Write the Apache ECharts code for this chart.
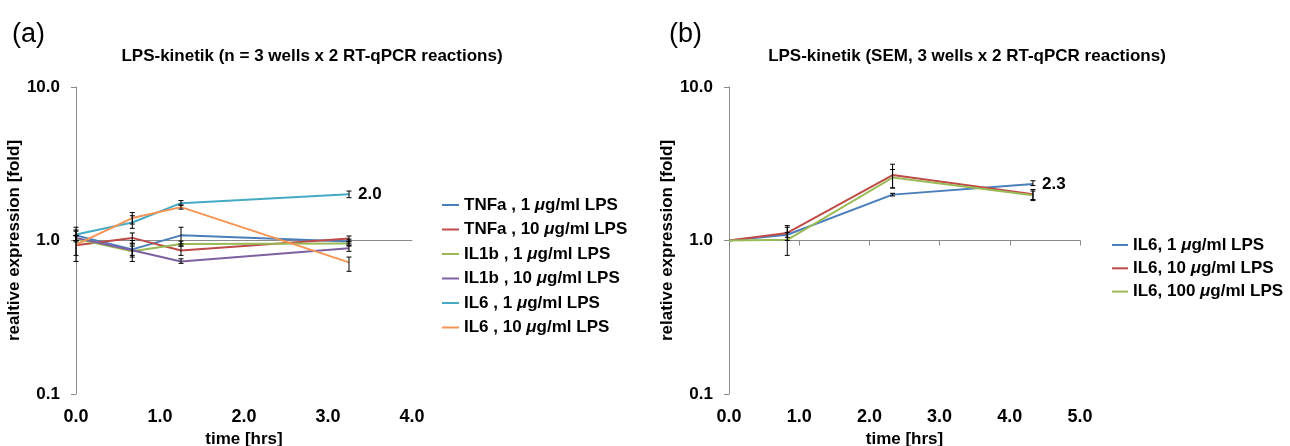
<!DOCTYPE html>
<html><head><meta charset="utf-8">
<script src="https://cdn.jsdelivr.net/npm/echarts@6/dist/echarts.min.js"></script>
<style>html,body{margin:0;padding:0;background:#fff}#c{width:1290px;height:446px}</style>
</head><body><div id="c"></div>
<script>
// ---- panel (a) ----
const timesA = [0, 0.67, 1.25, 3.25];
const xTicksA = [0, 4];
const namesA = ['TNFa , 1 μg/ml LPS', 'TNFa , 10 μg/ml LPS', 'IL1b , 1 μg/ml LPS', 'IL1b , 10 μg/ml LPS', 'IL6 , 1 μg/ml LPS', 'IL6 , 10 μg/ml LPS'];
const tnfa1  = [1.08, 0.875, 1.08, 0.985];
const tnfa10 = [0.93, 1.04, 0.86, 1.03];
const il1b1  = [1.025, 0.85, 0.95, 0.955];
const il1b10 = [1.04, 0.865, 0.73, 0.89];
const il6a1  = [1.095, 1.31, 1.75, 2.0];
const il6a10 = [0.94, 1.40, 1.65, 0.72];
const tnfa1Err  = [[1.0, 1.17], [0.80, 0.96], [0.95, 1.22], [0.95, 1.02]];
const tnfa10Err = [[0.80, 1.08], [0.95, 1.12], [0.80, 0.92], [0.98, 1.07]];
const il1b1Err  = [[0.98, 1.07], [0.78, 0.92], [0.92, 0.99], [0.92, 0.99]];
const il1b10Err = [[1.00, 1.08], [0.73, 1.00], [0.71, 0.76], [0.85, 0.93]];
const il6a1Err  = [[1.00, 1.22], [1.20, 1.45], [1.70, 1.82], [1.90, 2.10]];
const il6a10Err = [[0.73, 1.15], [1.28, 1.52], [1.60, 1.70], [0.63, 0.78]];
// ---- panel (b) ----
const timesB = [0, 0.83, 2.33, 4.33];
const xTicksB = [0, 5];
const namesB = ['IL6, 1 μg/ml LPS', 'IL6, 10 μg/ml LPS', 'IL6, 100 μg/ml LPS'];
const il6b1   = [1.0, 1.09, 1.99, 2.33];
const il6b10  = [1.0, 1.12, 2.67, 2.0];
const il6b100 = [1.0, 1.01, 2.57, 1.97];
const il6b1Err   = [null, [1.05, 1.13], [1.95, 2.03], [2.28, 2.45]];
const il6b10Err  = [null, [1.00, 1.25], [2.20, 3.14], [1.85, 2.15]];
const il6b100Err = [null, [0.80, 1.22], [2.20, 2.90], [1.82, 2.10]];
const yTicks = [0.1, 10];

const colorsA = ['#4a7ebb', '#be4b48', '#98b954', '#7d60a0', '#46aac5', '#f69454'];
const colorsB = ['#4a7ebb', '#be4b48', '#9bbb59'];
const FONT = "'Liberation Sans', Arial, sans-serif";
const AXIS_COLOR = '#8a8a8a';

function pairs(ts, vs) { return ts.map((t, i) => [t, vs[i]]); }
function errPairs(ts, es) { return ts.map((t, i) => es[i] ? [t, es[i][0], es[i][1]] : null).filter(Boolean); }

function lineSeries(name, ts, vs, color, xi, yi, endLbl) {
  const s = {
    name, type: 'line', data: pairs(ts, vs), xAxisIndex: xi, yAxisIndex: yi,
    symbol: 'none', showSymbol: false, color, lineStyle: { color, width: 2 }, z: 3,
    emphasis: { disabled: true }, animation: false
  };
  if (endLbl) {
    s.endLabel = { show: true, distance: 9, color: '#000', fontFamily: FONT, fontWeight: 'bold', fontSize: 17,
      formatter: p => p.value[1].toFixed(1) };
  }
  return s;
}
function errSeries(ts, es, xi, yi) {
  return {
    type: 'custom', xAxisIndex: xi, yAxisIndex: yi, data: errPairs(ts, es), z: 5, silent: true,
    encode: { x: 0, y: [1, 2] }, animation: false,
    renderItem: (params, api) => {
      const x = api.value(0);
      const lo = api.coord([x, api.value(1)]);
      const hi = api.coord([x, api.value(2)]);
      const w = 2.5;
      const st = { stroke: '#000', lineWidth: 1 };
      return { type: 'group', children: [
        { type: 'line', shape: { x1: lo[0], y1: lo[1], x2: hi[0], y2: hi[1] }, style: st },
        { type: 'line', shape: { x1: lo[0] - w, y1: lo[1], x2: lo[0] + w, y2: lo[1] }, style: st },
        { type: 'line', shape: { x1: hi[0] - w, y1: hi[1], x2: hi[0] + w, y2: hi[1] }, style: st }
      ]};
    }
  };
}

const lblStyle = { color: '#000', fontFamily: FONT, fontWeight: 'bold', fontSize: 17 };
function xLabelAxis(gi, range) {
  return { type: 'value', gridIndex: gi, min: range[0], max: range[1], interval: 1, position: 'bottom',
    axisLine: { show: false }, axisTick: { show: false }, splitLine: { show: false },
    axisLabel: Object.assign({ margin: 14, formatter: v => v.toFixed(1) }, lblStyle, { fontSize: 18 }),
    name: 'time [hrs]', nameLocation: 'middle', nameGap: 36, nameTextStyle: lblStyle };
}
function xLineAxis(gi, range, showTicks) {
  return { type: 'value', gridIndex: gi, min: range[0], max: range[1], interval: 1, position: 'bottom',
    offset: -153.5,
    axisLine: { show: true, lineStyle: { color: AXIS_COLOR, width: 1 } },
    axisTick: { show: showTicks, length: 5, lineStyle: { color: AXIS_COLOR } },
    axisLabel: { show: false }, splitLine: { show: false } };
}
function yAxis(gi, name) {
  return { type: 'log', logBase: 10, gridIndex: gi, min: yTicks[0], max: yTicks[1],
    axisLine: { show: true, lineStyle: { color: AXIS_COLOR, width: 1 } },
    axisTick: { show: true, length: 5, lineStyle: { color: AXIS_COLOR } },
    splitLine: { show: false }, minorTick: { show: false },
    axisLabel: Object.assign({ margin: 16, formatter: v => Number(v).toFixed(1) }, lblStyle),
    name, nameLocation: 'middle', nameGap: 52, nameTextStyle: lblStyle };
}
const legendText = { color: '#000', fontFamily: FONT, fontWeight: 'bold', fontSize: 17, lineHeight: 18,
  rich: { i: { fontStyle: 'italic', fontWeight: 'bold', fontFamily: FONT, fontSize: 17, color: '#000', lineHeight: 18 } } };
const legendFmt = n => n.replace('μ', '{i|μ}');

const seriesA = [tnfa1, tnfa10, il1b1, il1b10, il6a1, il6a10];
const errA = [tnfa1Err, tnfa10Err, il1b1Err, il1b10Err, il6a1Err, il6a10Err];
const seriesB = [il6b1, il6b10, il6b100];
const errB = [il6b1Err, il6b10Err, il6b100Err];

const series = [];
seriesA.forEach((v, i) => series.push(lineSeries(namesA[i], timesA, v, colorsA[i], 0, 0, i === 4)));
seriesB.forEach((v, i) => series.push(lineSeries(namesB[i], timesB, v, colorsB[i], 2, 1, i === 0)));
errA.forEach(e => series.push(errSeries(timesA, e, 0, 0)));
errB.forEach(e => series.push(errSeries(timesB, e, 2, 1)));

const chart = echarts.init(document.getElementById('c'), null, { renderer: 'canvas' });
chart.setOption({
  animation: false,
  backgroundColor: '#fff',
  textStyle: { fontFamily: FONT },
  title: [
    { text: '(a)', left: 7, top: 16, textStyle: { fontFamily: FONT, fontWeight: 'normal', fontSize: 27, color: '#000' } },
    { text: '(b)', left: 664, top: 16, textStyle: { fontFamily: FONT, fontWeight: 'normal', fontSize: 27, color: '#000' } },
    { text: 'LPS-kinetik (n = 3 wells x 2 RT-qPCR reactions)', left: 307, top: 43, textAlign: 'center',
      textStyle: { fontFamily: FONT, fontWeight: 'bold', fontSize: 17, color: '#000' } },
    { text: 'LPS-kinetik (SEM, 3 wells x 2 RT-qPCR reactions)', left: 962, top: 43, textAlign: 'center',
      textStyle: { fontFamily: FONT, fontWeight: 'bold', fontSize: 17, color: '#000' } }
  ],
  grid: [
    { left: 76, width: 336, top: 87, height: 307, outerBoundsMode: 'none', containLabel: false },
    { left: 729, width: 351, top: 87, height: 307, outerBoundsMode: 'none', containLabel: false }
  ],
  xAxis: [xLabelAxis(0, xTicksA), xLineAxis(0, xTicksA, false), xLabelAxis(1, xTicksB), xLineAxis(1, xTicksB, true)],
  yAxis: [yAxis(0, 'realtive expression [fold]'), yAxis(1, 'relative expression [fold]')],
  legend: [
    { data: namesA, orient: 'vertical', left: 437, top: 191, itemWidth: 17, itemHeight: 2, itemGap: 6.5,
      icon: 'rect', textStyle: legendText, formatter: legendFmt, selectedMode: false },
    { data: namesB, orient: 'vertical', left: 1107, top: 231, itemWidth: 16, itemHeight: 2, itemGap: 5.3,
      icon: 'rect', textStyle: legendText, formatter: legendFmt, selectedMode: false }
  ],
  series
});
</script></body></html>
